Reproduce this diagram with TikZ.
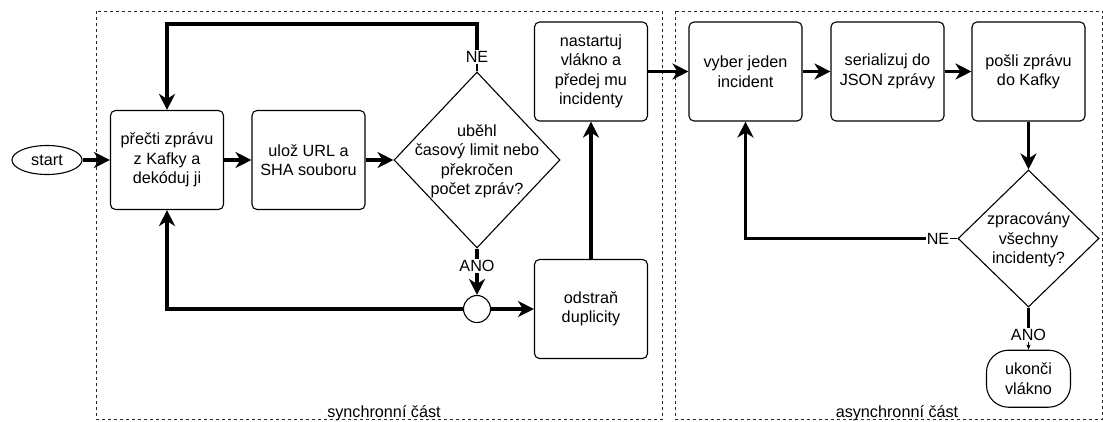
\documentclass[tikz,border=0pt]{standalone}
\usepackage{fontspec}
\setmainfont{Liberation Sans}
\usetikzlibrary{shapes.geometric,arrows.meta}
\begin{document}
\begin{tikzpicture}[x=1pt,y=-1pt,
  every node/.style={font=\fontsize{16.2}{19.5}\selectfont},
  box/.style={draw,line width=1.1pt,rounded corners=5pt,minimum width=113pt,
    minimum height=99pt,align=center,inner sep=0pt},
  dec/.style={draw,line width=1.1pt,diamond,inner sep=0pt},
  conn/.style={line width=3.2pt,-{Stealth[length=16pt,width=16pt,inset=5pt]}},
  plainline/.style={line width=3.2pt},
  stub/.style={line width=1.1pt},
  tinyarrow/.style={line width=1.1pt,-{Stealth[length=5pt,width=4pt,inset=1pt]}},
  lbl/.style={fill=white,inner sep=1pt,align=center},
  area/.style={draw=black!85,line width=0.8pt,dash pattern=on 3pt off 3pt},
]
\useasboundingbox (0,0) rectangle (1103,421);

% the two dashed regions
\draw[area] (96.4,11) rectangle (662,419.5);
\draw[area] (675,11) rectangle (1102.3,419.5);
\node[anchor=base] (synclbl) at (384,417.5) {synchronní část};
\node[anchor=base] (asynclbl) at (897,417.5) {asynchronní část};

% synchronous part
\node[draw,ellipse,line width=1.1pt,minimum width=70pt,minimum height=29pt,inner sep=0pt]
  (start) at (47,160) {start};
\node[box] (read) at (167,160) {přečti zprávu\\z Kafky a\\dekóduj ji};
\node[box] (save) at (308.5,160) {ulož URL a\\SHA souboru};
\node[dec,minimum width=166pt,minimum height=176pt] (dec1) at (477,160) {};
\node[align=center,inner sep=0pt] (dec1t) at (477,161.5)
  {uběhl\\časový limit nebo\\překročen\\počet zpráv?};
\node[draw,circle,line width=1.1pt,minimum size=27pt,inner sep=0pt] (junc) at (477,309) {};
\node[box] (dup) at (591,309) {odstraň\\duplicity};
\node[box] (thread) at (591,71.5) {nastartuj\\vlákno a\\předej mu\\incidenty};

% asynchronous part
\node[box] (pick) at (745.5,71.5) {vyber jeden\\incident};
\node[box] (ser) at (887.5,71.5) {serializuj do\\JSON zprávy};
\node[box] (send) at (1028.5,71.5) {pošli zprávu\\do Kafky};
\node[dec,minimum width=141pt,minimum height=137pt] (dec2) at (1028.5,238.5) {};
\node[align=center,inner sep=0pt] (dec2t) at (1028.5,240)
  {zpracovány\\všechny\\incidenty?};
\node[draw,line width=1.1pt,rounded corners=22pt,minimum width=84pt,minimum height=57pt,
  align=center,inner sep=0pt] (finish) at (1028.5,378.7) {ukonči\\vlákno};

% branch labels
\node[lbl] (ne1) at (477,57) {NE};
\node[lbl] (ano1) at (477,266) {ANO};
\node[lbl] (ne2) at (938,238.5) {NE};
\node[lbl] (ano2) at (1028.5,335) {ANO};
\coordinate (looptop) at (0,24);

% connectors
\draw[conn] (start) -- (read);
\draw[conn] (read) -- (save);
\draw[conn] (save) -- (dec1.west);
\draw[stub] (dec1.north) -- (ne1.south);
\draw[conn] (ne1.north) -- (ne1.north |- looptop) -| (read.north);
\draw[plainline] (dec1.south) -- (ano1.north);
\draw[conn] (ano1.south) -- (junc.north);
\draw[conn] (junc.west) -| (read.south);
\draw[conn] (junc.east) -- (dup.west);
\draw[conn] (dup.north) -- (thread.south);
\draw[conn] (thread.east) -- (pick.west);
\draw[conn] (pick) -- (ser);
\draw[conn] (ser) -- (send);
\draw[conn] (send.south) -- (dec2.north);
\draw[stub] (dec2.west) -- (ne2.east);
\draw[conn] (ne2.west) -| (pick.south);
\draw[plainline] (dec2.south) -- (ano2.north);
\draw[tinyarrow] (ano2.south) -- (finish.north);
\end{tikzpicture}
\end{document}
